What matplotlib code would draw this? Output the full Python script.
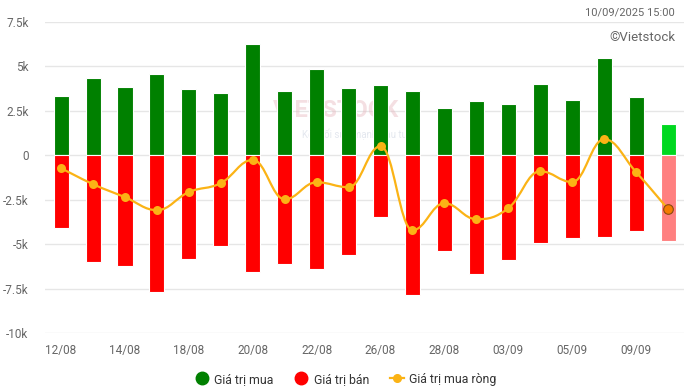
import numpy as np
import matplotlib.pyplot as plt
from matplotlib.path import Path
from matplotlib.patches import PathPatch
from matplotlib.lines import Line2D

plt.rcParams['font.family'] = ['Roboto', 'DejaVu Sans']

# data (billion VND)
dates = ['12/08', '13/08', '14/08', '15/08', '18/08', '19/08', '20/08', '21/08', '22/08', '25/08',
         '26/08', '27/08', '28/08', '29/08', '03/09', '04/09', '05/09', '08/09', '09/09', '10/09']
buy = [3340, 4350, 3850, 4580, 3740, 3510, 6280, 3620, 4860, 3790,
       3960, 3620, 2670, 3060, 2890, 4020, 3120, 5480, 3290, 1770]
sell = [-4070, -5980, -6210, -7670, -5810, -5080, -6540, -6100, -6380, -5590,
        -3450, -7840, -5370, -6660, -5870, -4920, -4630, -4580, -4240, -4800]
net = [-730, -1630, -2360, -3090, -2070, -1570, -260, -2480, -1520, -1800,
       510, -4220, -2700, -3600, -2980, -900, -1510, 900, -950, -3030]
yticks = [-10000, -7500, -5000, -2500, 0, 2500, 5000, 7500]
ytick_labels = ['-10k', '-7.5k', '-5k', '-2.5k', '0', '2.5k', '5k', '7.5k']


def spline_path(xs, ys, smoothing=1.5):
    # highcharts-style spline through the points
    n = len(xs)
    den = smoothing + 1
    left = [None] * n
    right = [None] * n
    for i in range(n):
        x, y = xs[i], ys[i]
        if i == 0 or i == n - 1:
            left[i] = (x, y)
            right[i] = (x, y)
            continue
        lx, ly = xs[i - 1], ys[i - 1]
        nx, ny = xs[i + 1], ys[i + 1]
        lcx = (smoothing * x + lx) / den
        lcy = (smoothing * y + ly) / den
        rcx = (smoothing * x + nx) / den
        rcy = (smoothing * y + ny) / den
        corr = (rcy - lcy) * (rcx - x) / (rcx - lcx) + y - rcy
        lcy += corr
        rcy += corr
        if lcy > ly and lcy > y:
            lcy = max(ly, y)
            rcy = 2 * y - lcy
        elif lcy < ly and lcy < y:
            lcy = min(ly, y)
            rcy = 2 * y - lcy
        if rcy > ny and rcy > y:
            rcy = max(ny, y)
            lcy = 2 * y - rcy
        elif rcy < ny and rcy < y:
            rcy = min(ny, y)
            lcy = 2 * y - rcy
        left[i] = (lcx, lcy)
        right[i] = (rcx, rcy)
    verts = [(xs[0], ys[0])]
    codes = [Path.MOVETO]
    for i in range(1, n):
        verts += [right[i - 1], left[i], (xs[i], ys[i])]
        codes += [Path.CURVE4] * 3
    return Path(verts, codes)


x = np.arange(len(dates))
fig = plt.figure(figsize=(6.84, 3.9), dpi=100)
ax = fig.add_axes([0.066, 0.146, 0.934, 0.798])

green = ['#008000'] * (len(x) - 1) + ['#00D820']
red = ['#FF0000'] * (len(x) - 1) + ['#FF8080']
ax.bar(x, buy, width=0.47, color=green, edgecolor='white', linewidth=0.8, zorder=2)
ax.bar(x, sell, width=0.47, color=red, edgecolor='white', linewidth=0.8, zorder=2)

line_c = '#FBB315'
ax.add_patch(PathPatch(spline_path(x, net), fill=False, edgecolor=line_c, lw=1.6, zorder=3))
ax.scatter(x[:-1], net[:-1], s=42, color=line_c, zorder=4, linewidths=0)
ax.scatter(x[-1:], net[-1:], s=48, color='#F57C00', edgecolor='#8A4A10', linewidths=0.8, zorder=4)

# watermark
ax.text(8.6, 2500, 'VIETSTOCK', fontsize=17, fontweight='bold', color='#E8B8C0', alpha=0.45,
        ha='center', va='center', zorder=1)
ax.text(9.2, 1150, 'Kết nối sức mạnh đầu tư', fontsize=7, color='#D8DDE8', alpha=0.7,
        ha='center', va='center', zorder=1)

ax.set_xlim(-0.5, len(x) - 0.5)
ax.set_ylim(-10000, 7500)
ax.set_yticks(yticks)
ax.set_yticklabels(ytick_labels)
ax.set_xticks(x[::2])
ax.set_xticklabels(dates[::2])
ax.grid(axis='y', color='#E6E6E6', linewidth=1, zorder=0)
ax.set_axisbelow(True)
for s in ax.spines.values():
    s.set_visible(False)
ax.tick_params(length=0, labelsize=8.5, labelcolor='#666666')
ax.tick_params(axis='y', pad=12)
ax.tick_params(axis='x', pad=8)

fig.text(0.987, 0.968, '10/09/2025 15:00', ha='right', va='center', fontsize=8, color='#666666')
fig.text(0.987, 0.905, '©Vietstock', ha='right', va='center', fontsize=9.5, color='#666666')

handles = [
    Line2D([], [], marker='o', ls='', markersize=9, color='#008000'),
    Line2D([], [], marker='o', ls='', markersize=9, color='#FF0000'),
    Line2D([], [], marker='o', ls='-', markersize=5.5, lw=1.6, color=line_c),
]
fig.legend(handles, ['Giá trị mua', 'Giá trị bán', 'Giá trị mua ròng'], loc='center',
           bbox_to_anchor=(0.505, 0.028), ncol=3, frameon=False, fontsize=8.8,
           handlelength=1.2, handletextpad=0.4, columnspacing=1.7, labelcolor='#333333')

plt.savefig('out.png', dpi=100)
